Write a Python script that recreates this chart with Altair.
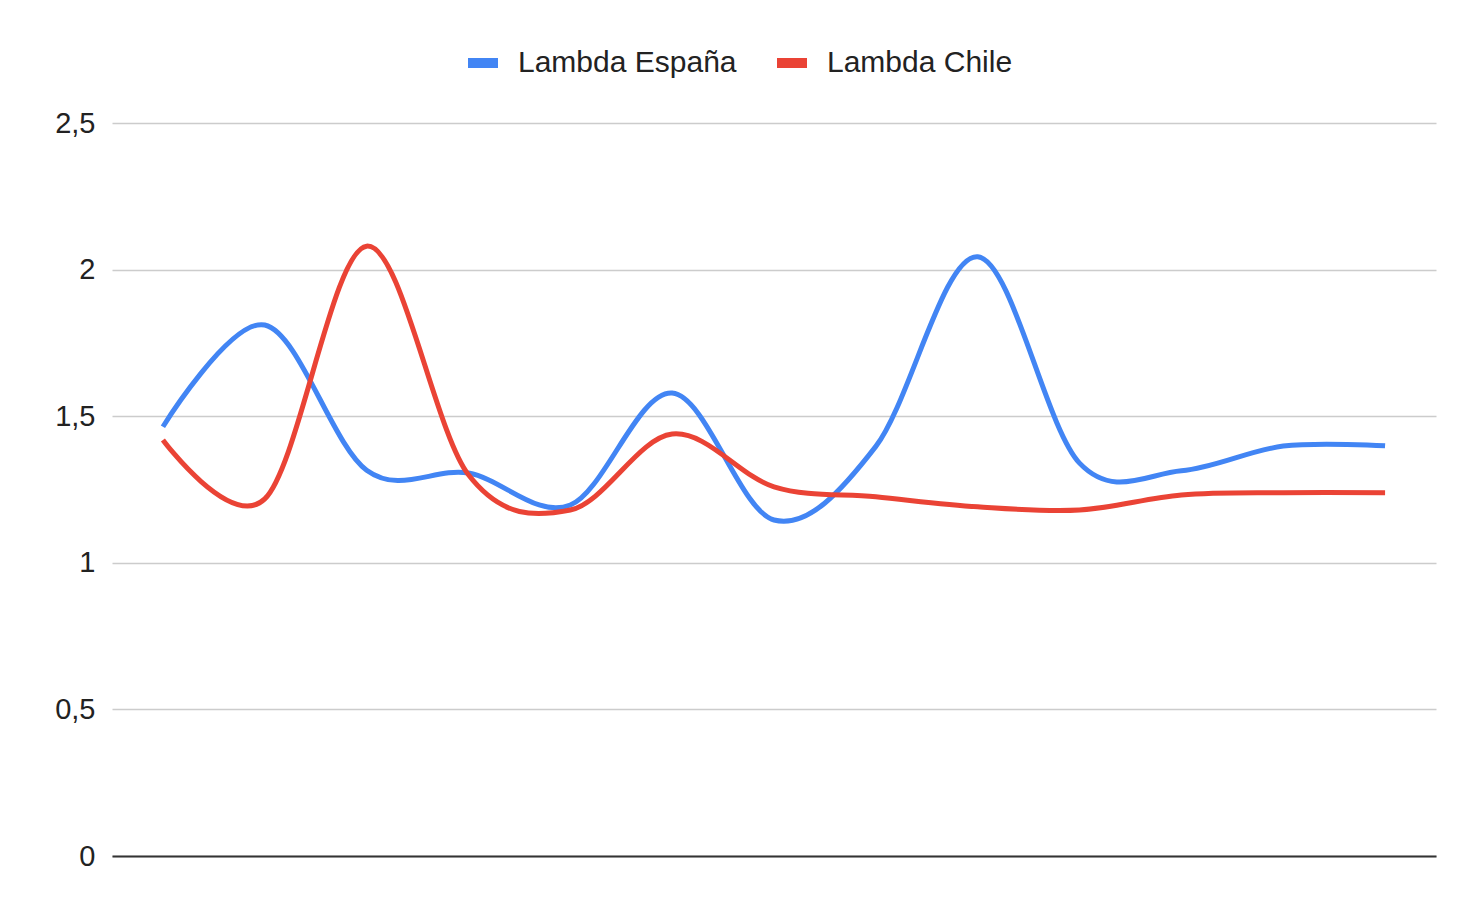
import altair as alt
import pandas as pd

periods = list(range(13))
espana = [1.464, 1.811, 1.316, 1.306, 1.197, 1.579, 1.146, 1.397, 2.044, 1.340, 1.314, 1.398, 1.399]
chile = [1.419, 1.218, 2.080, 1.300, 1.180, 1.439, 1.259, 1.225, 1.191, 1.180, 1.231, 1.239, 1.239]
series = ["Lambda España", "Lambda Chile"]
colors = ["#4285F4", "#EA4335"]
y_ticks = [0, 0.5, 1, 1.5, 2, 2.5]

rows = []
for name, vals in zip(series, [espana, chile]):
    for p, v in zip(periods, vals):
        rows.append({"period": p, "value": v, "series": name})
df = pd.DataFrame(rows)

FONT = "Liberation Sans, Arial, sans-serif"

base = alt.Chart(df).mark_line(interpolate="cardinal", strokeWidth=5).encode(
    x=alt.X(
        "period:O",
        scale=alt.Scale(type="point", padding=0.5),
        axis=alt.Axis(title=None, labels=False, ticks=False, domain=True,
                      domainColor="#333333", domainWidth=2, grid=False),
    ),
    y=alt.Y(
        "value:Q",
        scale=alt.Scale(domain=[0, 2.5]),
        axis=alt.Axis(values=y_ticks, title=None, format=".1~f",
                      labelExpr="replace(datum.label, '.', ',')",
                      domain=False, ticks=False, tickSize=0, labelPadding=17,
                      gridColor="#cccccc", gridWidth=1.5,
                      labelFontSize=29, labelColor="#222222", labelFont=FONT),
    ),
    color=alt.Color(
        "series:N",
        scale=alt.Scale(domain=series, range=colors),
        legend=alt.Legend(title=None, orient="none", direction="horizontal",
                          legendX=351, legendY=-80, padding=0,
                          symbolType="stroke", symbolStrokeWidth=10, symbolSize=900,
                          labelFontSize=30, labelColor="#222222", labelFont=FONT,
                          labelLimit=500, labelOffset=15, columnPadding=20),
    ),
)

blue = base.transform_filter(alt.datum.series == series[0])
red = base.transform_filter(alt.datum.series == series[1])

chart = alt.layer(blue, red).properties(
    width=1324,
    height=733,
    padding={"left": 104, "top": 115, "right": 30, "bottom": 40},
    autosize=alt.AutoSizeParams(type="none"),
).configure_view(stroke=None)

chart.save("out.html", embed_options={"renderer": "svg", "actions": False})
